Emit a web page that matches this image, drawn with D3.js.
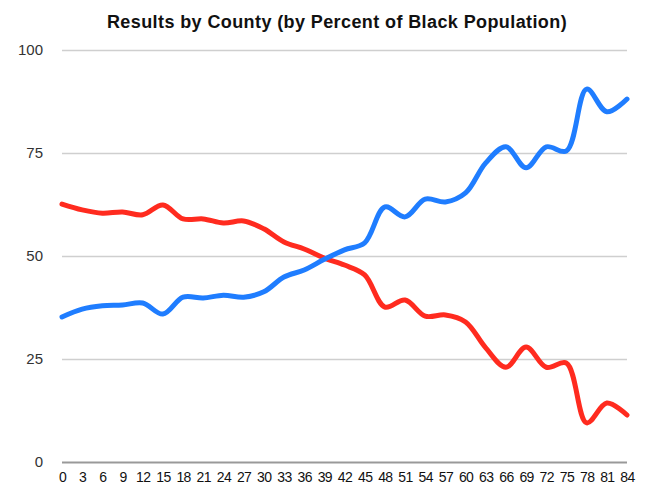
<!DOCTYPE html>
<html><head><meta charset="utf-8">
<script src="https://cdn.jsdelivr.net/npm/d3@7"></script>
<style>
html,body{margin:0;padding:0;background:#fff;}
svg{display:block;font-family:"Liberation Sans",Arial,Helvetica,sans-serif;}
</style></head>
<body><svg id="chart" width="652" height="495"></svg>
<script>
const categories = ["0","3","6","9","12","15","18","21","24","27","30","33","36","39","42","45","48","51","54","57","60","63","66","69","72","75","78","81","84"];
const blueValues = [35.2,37.1,37.9,38.1,38.6,35.9,40.0,39.8,40.5,40.0,41.3,44.9,46.6,49.2,51.5,53.2,61.9,59.5,63.8,63.1,65.3,72.6,76.5,71.4,76.5,75.5,90.5,85.0,88.1];
const redValues  = [62.6,61.2,60.4,60.7,60.0,62.4,59.0,59.0,58.0,58.5,56.6,53.4,51.7,49.5,47.8,45.4,37.6,39.3,35.4,35.7,34.0,27.7,23.0,27.9,23.0,24.0,9.5,14.3,11.4];
const yTicks = [0,25,50,75,100];
const title = "Results by County (by Percent of Black Population)";

const svg = d3.select("#chart");
const x = d3.scalePoint().domain(categories).range([62, 627]);
const y = d3.scaleLinear().domain([0,100]).range([462, 50]);

svg.append("text").attr("x", 337).attr("y", 28).attr("text-anchor","middle")
  .attr("font-size", 18).attr("font-weight","bold").attr("letter-spacing","0.4").attr("fill","#111").text(title);

// y grid + labels
const yAxis = d3.axisLeft(y).tickValues(yTicks).tickSize(-(627-62)).tickPadding(19);
const gy = svg.append("g").attr("transform","translate(62,0)").call(yAxis);
gy.select(".domain").remove();
gy.selectAll(".tick line").attr("stroke", d => d===0 ? "#999" : "#cfcfcf").attr("stroke-width", d => d===0 ? 2 : 1.5);
gy.selectAll(".tick text").attr("font-size", 15).attr("fill","#333").attr("font-family","Liberation Sans, Arial, sans-serif");

// x labels
const xAxis = d3.axisBottom(x).tickSize(0).tickPadding(10);
const gx = svg.append("g").attr("transform","translate(0,462)").call(xAxis);
gx.select(".domain").remove();
gx.selectAll(".tick text").attr("font-size", 14).attr("fill","#111").attr("font-family","Liberation Sans, Arial, sans-serif").attr("letter-spacing","-0.6");

const line = d3.line().x((d,i)=>x(categories[i])).y(d=>y(d)).curve(d3.curveCatmullRom.alpha(0.5));
svg.append("path").datum(redValues).attr("d", line).attr("fill","none").attr("stroke","#ff2b1f").attr("stroke-width",5).attr("stroke-linecap","round").attr("stroke-linejoin","round");
svg.append("path").datum(blueValues).attr("d", line).attr("fill","none").attr("stroke","#1f7dff").attr("stroke-width",5).attr("stroke-linecap","round").attr("stroke-linejoin","round");
</script></body></html>
